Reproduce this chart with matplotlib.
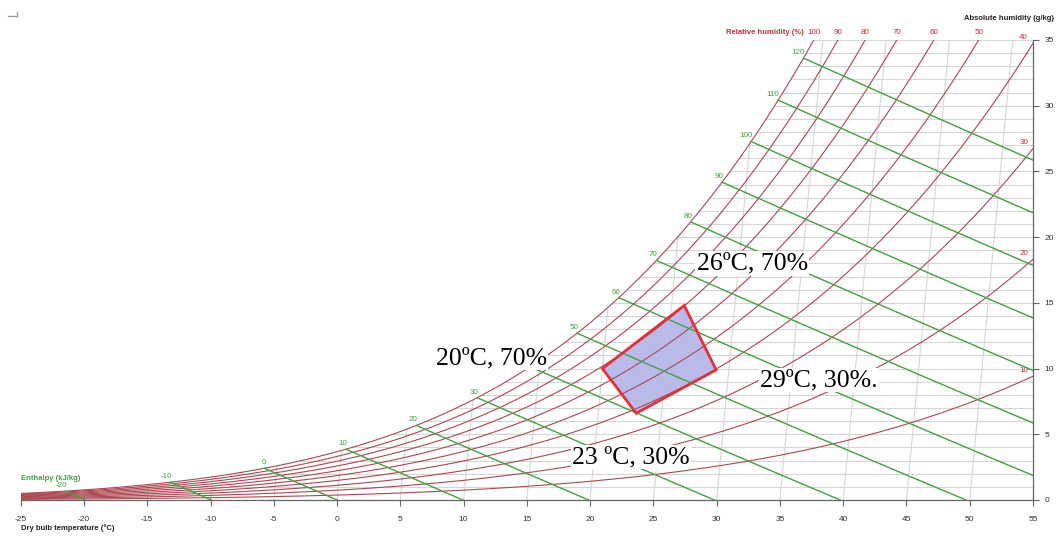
import numpy as np
import matplotlib.pyplot as plt
from matplotlib.lines import Line2D

# axis ticks
temp_ticks = list(range(-25, 60, 5))      # dry bulb temperature, °C
hum_ticks = list(range(0, 40, 5))         # absolute humidity, g/kg

# curve families drawn on the chart
rh_levels = [10, 20, 30, 40, 50, 60, 70, 80, 90, 100]
enthalpy_levels = [-20, -10, 0, 10, 20, 30, 40, 50, 60, 70, 80, 90, 100, 110, 120]
enthalpy_hidden = [40]                    # label sits under the "20ºC, 70%" note

# comfort zone corners
zone_temp = [20, 26, 29, 23]              # °C
zone_hum = [10.0, 14.8, 9.9, 6.6]         # g/kg
zone_text = ['20ºC, 70%', '26ºC, 70%', '29ºC, 30%.', '23 ºC, 30%']

P_ATM = 101.325   # kPa
SKEW = 0.097      # isotherms lean right by this many °C per g/kg

RH_COLOR = '#ad4752'
RH_LABEL = '#c0303c'
H_COLOR = '#44a044'
GRID = '#d6d6d6'
SANS = ['Liberation Sans', 'DejaVu Sans']

plt.rcParams['font.family'] = SANS
plt.rcParams['axes.unicode_minus'] = False


def p_sat(t):
    return 0.61094 * np.exp(17.625 * t / (t + 243.04))


def abs_hum(t, rh):
    pv = rh / 100 * p_sat(t)
    return 622 * pv / (P_ATM - pv)


def chart_x(t, x):
    return t + SKEW * x


fig = plt.figure(figsize=(10.62, 5.40), dpi=100)
ax = fig.add_axes([20.7 / 1062, 40 / 540, (1033 - 20.7) / 1062, 460 / 540])
ax.set_xlim(-25, 55)
ax.set_ylim(0, 35)

t_grid = np.linspace(-30, 60, 3000)
x_sat = abs_hum(t_grid, 100)
h_sat = 1.006 * t_grid + x_sat * (2.501 + 0.00186 * t_grid)

# grid: horizontal humidity lines and leaning isotherms under the saturation curve
for g in range(1, 36):
    ts = np.interp(g, x_sat, t_grid)
    ax.plot([chart_x(ts, g), 56], [g, g], color=GRID, lw=0.8, zorder=1)
for t in temp_ticks:
    xt = min(abs_hum(t, 100), 35)
    ax.plot([chart_x(t, 0), chart_x(t, xt)], [0, xt], color=GRID, lw=0.8, zorder=1)

# relative humidity curves
for rh in rh_levels:
    x = abs_hum(t_grid, rh)
    X = chart_x(t_grid, x)
    ax.plot(X, x, color=RH_COLOR, lw=0.8, zorder=3)
    top_X = chart_x(np.interp(35, x, t_grid), 35)
    if top_X <= 55:
        ax.annotate(str(rh), (top_X, 35), xytext=(0, 3), textcoords='offset points',
                    ha='center', va='bottom', fontsize=5.8, color=RH_LABEL,
                    annotation_clip=False)
    else:
        xe = np.interp(55, X, x)
        ax.annotate(str(rh), (55, xe), xytext=(-3.5, 1.5), textcoords='offset points',
                    ha='right', va='bottom', fontsize=5.8, color=RH_LABEL)

# enthalpy lines
for h in enthalpy_levels:
    ts = np.interp(h, h_sat, t_grid)
    xs = np.interp(h, h_sat, x_sat)
    x = np.linspace(0, xs, 200)
    t = (h - 2.501 * x) / (1.006 + 0.00186 * x)
    ax.plot(chart_x(t, x), x, color=H_COLOR, lw=1.0, zorder=4)
    if h not in enthalpy_hidden:
        ax.annotate(str(h), (chart_x(ts, xs), xs), xytext=(1, 1.5), textcoords='offset points',
                    ha='right', va='bottom', fontsize=5.8, color=H_COLOR)

# comfort zone
zx = [chart_x(t, x) for t, x in zip(zone_temp, zone_hum)]
ax.fill(zx, zone_hum, facecolor='#b9b9ea', edgecolor='none', zorder=2)
ax.fill(zx, zone_hum, facecolor='none', edgecolor='#e2313c', lw=2, zorder=5)

label_xy = [(12.2, 10.8), (32.8, 18.0), (38.1, 9.13), (23.25, 3.27)]
for txt, (lx, ly) in zip(zone_text, label_xy):
    ax.text(lx, ly, txt, ha='center', va='center', fontsize=18.5,
            family=['Liberation Serif', 'DejaVu Serif'], color='black', zorder=6,
            bbox=dict(facecolor='white', edgecolor='none', pad=1))

# axes styling
for side in ['left', 'top']:
    ax.spines[side].set_visible(False)
for side in ['bottom', 'right']:
    ax.spines[side].set_color('#666666')
    ax.spines[side].set_linewidth(0.9)
ax.yaxis.tick_right()
ax.set_xticks(temp_ticks)
ax.set_yticks(hum_ticks)
ax.tick_params(axis='x', direction='out', length=4, width=0.8, colors='#666666',
               labelsize=6, labelcolor='#333333', pad=7.5)
ax.tick_params(axis='y', direction='out', length=4, width=0.8, colors='#666666',
               labelsize=6, labelcolor='#333333', pad=4.5)

fig.text(20.7 / 1062, 1 - 528 / 540, 'Dry bulb temperature (°C)', ha='left', va='center',
         fontsize=5.5, fontweight='bold', color='#222222')
fig.text(20.7 / 1062, 1 - 479 / 540, 'Enthalpy (kJ/kg)', ha='left', va='center',
         fontsize=5.5, fontweight='bold', color=H_COLOR)
fig.text(1054 / 1062, 1 - 19 / 540, 'Absolute humidity (g/kg)', ha='right', va='center',
         fontsize=5.5, fontweight='bold', color='#222222')
fig.text(804 / 1062, 1 - 32 / 540, 'Relative humidity (%)', ha='right', va='center',
         fontsize=5.5, fontweight='bold', color=RH_LABEL)

# small corner mark at the top left
fig.add_artist(Line2D([8 / 1062, 17 / 1062], [1 - 16 / 540] * 2, color='#999999', lw=1))
fig.add_artist(Line2D([16.5 / 1062] * 2, [1 - 16 / 540, 1 - 12 / 540], color='#999999', lw=1))

fig.savefig('out.png', dpi=100)
